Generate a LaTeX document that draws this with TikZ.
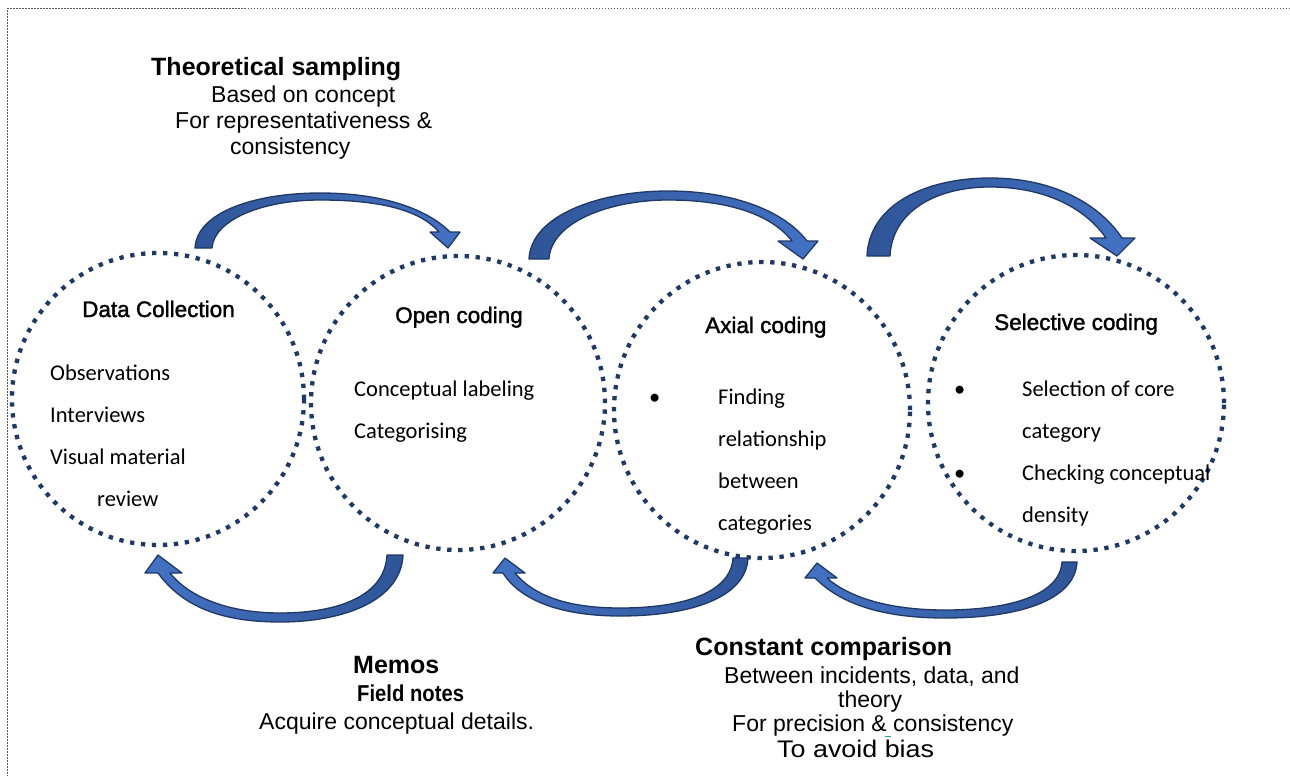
\documentclass[tikz,border=0pt]{standalone}
\usepackage{fontspec}
\setmainfont{Liberation Sans}
\newfontfamily\bodyfont{Carlito}
\newfontfamily\headfont{Liberation Sans}[BoldFont={Liberation Sans}, BoldFeatures={FakeBold=1.6}]
\newfontfamily\narrowbold{Liberation Sans}[UprightFont={* Bold}, FakeStretch=0.88]
\newfontfamily\widesans{Liberation Sans}[FakeStretch=1.12]
\definecolor{navy}{HTML}{1F3864}
\definecolor{bluedark}{HTML}{2F5597}
\definecolor{bluelight}{HTML}{4472C4}
\definecolor{framegray}{HTML}{555555}
\definecolor{spellteal}{HTML}{2E9C9C}
\begin{document}
\begin{tikzpicture}[x=1pt,y=-1pt,
  phase/.style={circle, draw=navy, line width=4.3pt, dash pattern=on 4.3pt off 6.7pt,
                minimum size=#1, inner sep=0pt},
  body/.style={anchor=base west, inner sep=0pt, font=\bodyfont\fontsize{22.5}{27}\selectfont},
  head/.style={anchor=base west, inner sep=0pt, font=\headfont\bfseries\fontsize{22.5}{27}\selectfont},
  title/.style={anchor=base west, inner sep=0pt, font=\bfseries\fontsize{25}{29}\selectfont},
  note/.style={anchor=base west, inner sep=0pt, font=\fontsize{23}{26}\selectfont},
  bendarrow/.style={draw=navy, line width=1.3pt, line join=round},
  overfill/.style={left color=bluedark, right color=bluelight},
  underfill/.style={left color=bluelight, right color=bluedark}]

% page and dotted frame
\fill[white] (0,0) rectangle (1290,776);
\useasboundingbox (0,0) rectangle (1290,776);
\draw[framegray, line width=1pt, dash pattern=on 1.5pt off 1.5pt] (1290,9) -- (7,9) -- (7,776);

% the four phases
\node[phase=292pt] (dc) at (158,399) {};
\node[phase=294pt] (oc) at (458,403) {};
\node[phase=296pt] (ac) at (762,410) {};
\node[phase=296pt] (sc) at (1076,403) {};

% curved arrows above the phases
\path[bendarrow, overfill]
  (195,248) .. controls (197,212) and (255,193) .. (320,193)
  .. controls (385,193) and (428,210) .. (450,232)
  -- (460,232) -- (448,248) -- (430,232) -- (439,232)
  .. controls (420,210) and (380,200) .. (320,200)
  .. controls (262,200) and (214,220) .. (212,248) -- cycle;
\path[bendarrow, overfill]
  (529,259) .. controls (531,215) and (600,191) .. (668,191)
  .. controls (735,191) and (785,212) .. (807,241)
  -- (818,241) -- (803,259) -- (778,241) -- (792,241)
  .. controls (770,213) and (725,200) .. (668,200)
  .. controls (610,200) and (551,222) .. (549,259) -- cycle;
\path[bendarrow, overfill]
  (867,256) .. controls (869,205) and (925,178) .. (990,178)
  .. controls (1055,178) and (1100,205) .. (1122,238)
  -- (1135,238) -- (1117,256) -- (1090,238) -- (1106,238)
  .. controls (1085,208) and (1045,187) .. (990,187)
  .. controls (935,187) and (892,212) .. (890,256) -- cycle;

% curved arrows below the phases
\path[bendarrow, underfill]
  (403,555) .. controls (401,600) and (345,622) .. (280,622)
  .. controls (215,622) and (180,603) .. (158,573)
  -- (145,573) -- (158,555) -- (182,573) -- (170,573)
  .. controls (190,598) and (230,613) .. (280,613)
  .. controls (340,613) and (385,595) .. (387,555) -- cycle;
\path[bendarrow, underfill]
  (748,558) .. controls (746,598) and (690,616) .. (620,616)
  .. controls (560,616) and (520,600) .. (503,573)
  -- (493,573) -- (505,558) -- (525,573) -- (515,573)
  .. controls (535,597) and (570,608) .. (620,608)
  .. controls (685,608) and (731,592) .. (733,558) -- cycle;
\path[bendarrow, underfill]
  (1077,562) .. controls (1075,600) and (1020,618) .. (945,618)
  .. controls (880,618) and (840,603) .. (815,578)
  -- (805,578) -- (817,563) -- (837,578) -- (827,578)
  .. controls (850,598) and (890,610) .. (945,610)
  .. controls (1010,610) and (1060,595) .. (1062,562) -- cycle;

% phase contents
\node[head] (dch) at (82,317) {Data Collection};
\node[body] (dc1) at (50,380) {Observations};
\node[body] (dc2) at (50,422) {Interviews};
\node[body] (dc3) at (50,464) {Visual material};
\node[body] (dc4) at (97,506) {review};

\node[head] (och) at (395,323) {Open coding};
\node[body] (oc1) at (354,396) {Conceptual labeling};
\node[body] (oc2) at (354,438) {Categorising};

\node[head] (ach) at (705,333) {Axial coding};
\node[body] (acb) at (649,404) {•};
\node[body] (ac1) at (718,404) {Finding};
\node[body] (ac2) at (718,446) {relationship};
\node[body] (ac3) at (718,488) {between};
\node[body] (ac4) at (718,530) {categories};

\node[head] (sch) at (994,330) {Selective coding};
\node[body] (scb1) at (954,396) {•};
\node[body] (sc1) at (1022,396) {Selection of core};
\node[body] (sc2) at (1022,438) {category};
\node[body] (scb2) at (954,480) {•};
\node[body] (sc3) at (1022,480) {Checking conceptual};
\node[body] (sc4) at (1022,522) {density};

% annotations
\node[title] (ts) at (151,75) {Theoretical sampling};
\node[note] (ts1) at (211,102) {Based on concept};
\node[note] (ts2) at (175,128) {For representativeness \&};
\node[note] (ts3) at (230,154) {consistency};

\node[title] (mm) at (353,673) {Memos};
\node[title, font=\narrowbold\fontsize{23}{27}\selectfont] (fn) at (357,701) {Field notes};
\node[note] (mm1) at (259,729) {Acquire conceptual details.};

\node[title] (cc) at (695,655) {Constant comparison};
\node[note] (cc1) at (724,683) {Between incidents, data, and};
\node[note] (cc2) at (838,707) {theory};
\node[note] (cc3) at (732,731) {For precision \& consistency};
\node[note, font=\widesans\fontsize{24}{28}\selectfont] (cc4) at (777,757) {To avoid bias};
\draw[spellteal, line width=1pt] (885,736) -- (891,736);

\end{tikzpicture}
\end{document}
